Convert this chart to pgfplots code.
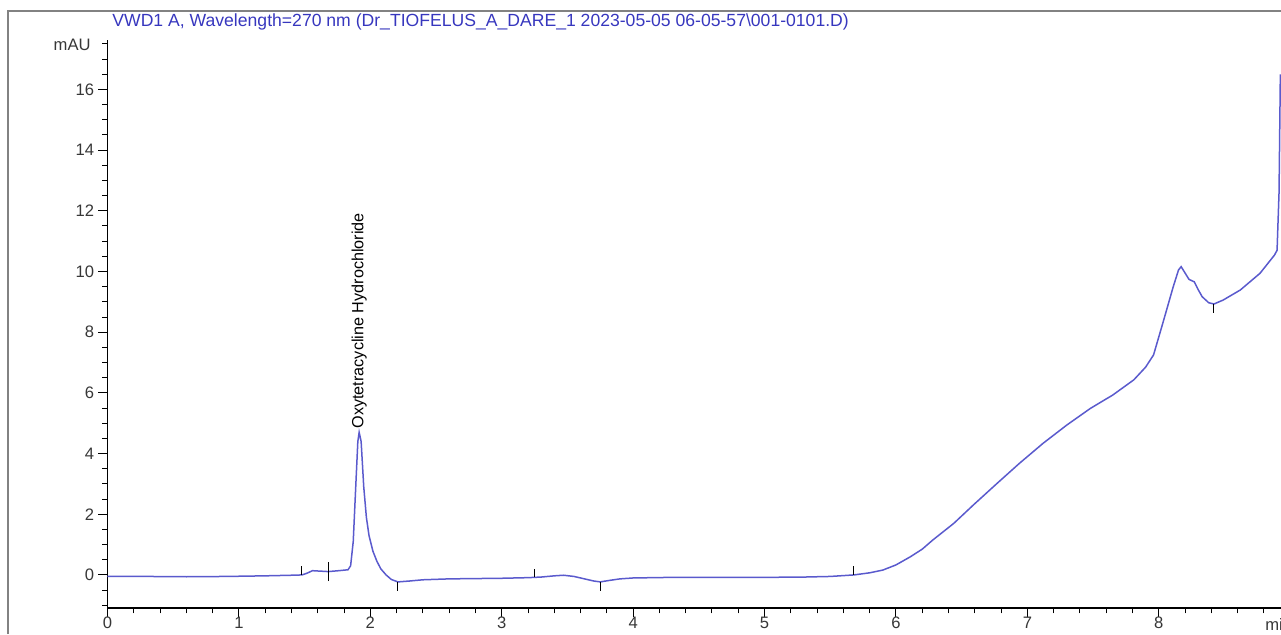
\documentclass[border=0pt]{standalone}
\usepackage{fontspec}
\setmainfont{Liberation Sans}
\usepackage{pgfplots}
\pgfplotsset{compat=1.18}
\definecolor{trace}{RGB}{90,90,205}
\definecolor{ttl}{RGB}{55,55,190}
\definecolor{frm}{RGB}{130,130,130}
\definecolor{lbl}{RGB}{55,55,55}

\begin{document}
\begin{tikzpicture}[x=1pt,y=1pt]
\useasboundingbox (0,0) rectangle (640.5,317);
\draw[frm, line width=1pt] (4,0) -- (4,311.5) -- (640.5,311.5);
\node[anchor=west, text=ttl, font=\fontsize{8.8}{10}\selectfont, inner sep=0pt] at (56,306)
  {VWD1 A, Wavelength=270 nm (Dr\_TIOFELUS\_A\_DARE\_1 2023-05-05 06-05-57\textbackslash 001-0101.D)};
\begin{axis}[
    at={(53.75pt,13pt)}, anchor=south west,
    scale only axis, width=586.75pt, height=284pt,
    xmin=0, xmax=8.93, ymin=-1.09, ymax=17.63,
    axis x line*=bottom, axis y line*=left,
    axis line style={-, black, line width=0.6pt},
    tick align=outside,
    xtick={0,1,...,8}, ytick={0,2,...,16},
    minor xtick={0,0.2,...,8.9},
    minor ytick={-1,-0.5,...,17.5},
    major tick length=4.5pt, minor tick length=2.7pt,
    tick style={black, line width=0.5pt},
    tick label style={font=\fontsize{8.3}{9}\selectfont, text=lbl},
    xticklabel style={inner sep=1pt, yshift=1pt},
    yticklabel style={inner sep=2pt},
    /pgf/number format/assume math mode=true,
    clip=false,
]
% chromatogram trace
\addplot[trace, line width=0.75pt] coordinates {
 (0,-0.05) (0.3,-0.05) (0.6,-0.06) (0.9,-0.05) (1.2,-0.03) (1.4,-0.01)
 (1.48,0.0) (1.52,0.06) (1.56,0.14) (1.6,0.13) (1.68,0.11) (1.76,0.14)
 (1.83,0.17) (1.85,0.3) (1.87,1.1) (1.89,3.0) (1.905,4.4) (1.915,4.70)
 (1.93,4.4) (1.95,2.9) (1.97,1.9) (1.99,1.3) (2.02,0.78) (2.05,0.45)
 (2.08,0.2) (2.12,0.0) (2.16,-0.15) (2.21,-0.23) (2.3,-0.2) (2.4,-0.16)
 (2.6,-0.13) (2.8,-0.12) (3.0,-0.11) (3.2,-0.09) (3.3,-0.07) (3.4,-0.03)
 (3.47,-0.01) (3.55,-0.05) (3.62,-0.12) (3.7,-0.2) (3.75,-0.23) (3.82,-0.18)
 (3.9,-0.13) (4.0,-0.1) (4.3,-0.08) (4.6,-0.08) (5.0,-0.08) (5.3,-0.07)
 (5.5,-0.05) (5.68,0.0) (5.8,0.07) (5.9,0.16) (6.0,0.33) (6.11,0.6)
 (6.2,0.85) (6.28,1.15) (6.44,1.7) (6.59,2.31) (6.77,3.02) (6.94,3.68)
 (7.12,4.34) (7.3,4.94) (7.48,5.49) (7.65,5.93) (7.81,6.43) (7.9,6.85)
 (7.96,7.25) (8.03,8.29) (8.11,9.5) (8.15,10.05) (8.17,10.16) (8.2,9.95)
 (8.23,9.74) (8.27,9.66) (8.3,9.4) (8.33,9.17) (8.38,8.97) (8.42,8.93)
 (8.49,9.06) (8.62,9.39) (8.77,9.94) (8.88,10.54) (8.90,10.7) (8.915,12.6)
 (8.925,16.5)
};
% integration baseline markers
\addplot[black, line width=0.5pt] coordinates {(1.48,0.0) (1.48,0.3)};
\addplot[black, line width=0.5pt] coordinates {(1.68,-0.2) (1.68,0.42)};
\addplot[black, line width=0.5pt] coordinates {(2.21,-0.23) (2.21,-0.52)};
\addplot[black, line width=0.5pt] coordinates {(3.25,-0.08) (3.25,0.2)};
\addplot[black, line width=0.5pt] coordinates {(3.75,-0.23) (3.75,-0.52)};
\addplot[black, line width=0.5pt] coordinates {(5.68,0.0) (5.68,0.3)};
\addplot[black, line width=0.5pt] coordinates {(8.42,8.93) (8.42,8.62)};
\node[rotate=90, anchor=west, inner sep=1pt, font=\fontsize{8.1}{9}\selectfont] at (axis cs:1.915,4.75) {Oxytetracycline Hydrochloride};
\end{axis}
\node[anchor=east, inner sep=0pt, font=\fontsize{8.3}{9}\selectfont, text=lbl] at (45.5,294.5) {mAU};
\node[anchor=west, inner sep=0pt, font=\fontsize{8.3}{9}\selectfont, text=lbl] at (632.5,5) {min};
\end{tikzpicture}
\end{document}
